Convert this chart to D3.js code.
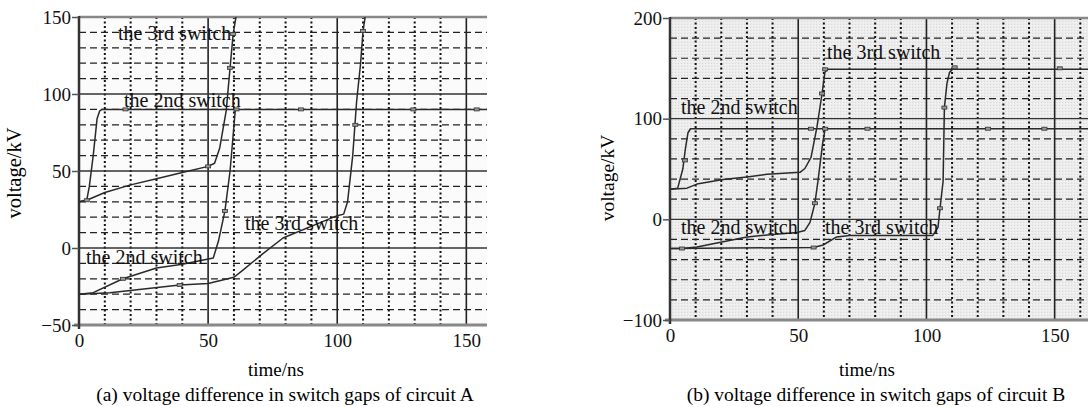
<!DOCTYPE html>
<html>
<head>
<meta charset="utf-8">
<script src="https://cdn.jsdelivr.net/npm/d3@7"></script>
<style>
  body { margin: 0; background: #fff; }
  svg { display: block; font-family: "Liberation Serif", "DejaVu Serif", serif; }
</style>
</head>
<body>
<svg id="chart" width="1089" height="407"></svg>
<script>
// ---- data: [time ns, voltage kV] ----
// circuit A
let a2ndUp = [[0,30],[3,31],[4,40],[5.5,60],[7,84],[8,89],[9,90],[158,90]];
let a3rdUp = [[0,30],[3,31],[10,36],[20,41],[30,45],[40,49],[50,53],[52.5,55],[54.5,65],[57,89],[58.5,117],[59.7,139],[61,152],[62,175]];
let a2ndDown = [[0,-30],[5.5,-29],[17,-20],[30,-13],[40,-10.5],[52,-6.5],[54,4.5],[56.5,24],[58.5,50],[60.5,89],[61,90]];
let a3rdDown = [[0,-30],[12,-29],[39,-24],[50,-23],[60,-19],[63,-15],[71,-4],[79,6.5],[92,15.5],[100,21],[102.5,22],[104,30],[106,60],[107.5,95],[109,119],[110,141],[111,152],[112,175]];
let a2ndUpMarks = [[3,31],[18,90],[86,90],[129.5,90],[154,90]];
let a3rdUpMarks = [[50,53],[58.5,117],[59.7,139]];
let a2ndDownMarks = [[17,-20],[56.5,24],[61,90]];
let a3rdDownMarks = [[39,-24],[107,80],[110,141]];

// circuit B
let b2ndUp = [[0,30],[3,31],[5,50],[6,70],[7,86],[8,90],[163,90]];
let b3rdUp = [[0,30],[6.6,31],[10.5,35],[20.7,39.5],[30,42],[37.8,44.7],[50.7,46.7],[52.6,50.5],[55,61.6],[57.3,91.5],[59.3,125],[60.4,146],[61.5,149],[163,149]];
let b2ndDown = [[0,-29],[4.7,-29],[10.5,-27.5],[30,-17.5],[40,-15],[49.5,-13],[52.6,-11],[54.6,-3],[56.5,16],[57.7,38],[59.5,75],[60.5,90]];
let b3rdDown = [[0,-29],[56,-28],[59.7,-25.5],[65,-17.5],[70,-16],[102.5,-16],[104.5,-8],[105.3,11],[106.5,38],[107,111],[108,135],[109,146],[111,151]];
let b2ndUpMarks = [[5.8,58.5],[55,90],[77,90],[124,90],[146,90]];
let b3rdUpMarks = [[59.3,125],[60.5,149]];
let b2ndDownMarks = [[4.7,-29],[56.5,16],[60.5,90]];
let b3rdDownMarks = [[56,-28],[105.3,11],[107,111],[111,151],[152,150]];

let xTicks = [0, 50, 100, 150];
let aYTicks = [-50, 0, 50, 100, 150];
let bYTicks = [-100, 0, 100, 200];

let svg = d3.select('#chart');

let defs = svg.append('defs');
// stippled grey background used in panel (b)
let pat = defs.append('pattern').attr('id', 'stipple')
  .attr('width', 3).attr('height', 3).attr('patternUnits', 'userSpaceOnUse');
pat.append('rect').attr('width', 3).attr('height', 3).attr('fill', '#ececec');
pat.append('rect').attr('x', 0).attr('y', 0).attr('width', 1).attr('height', 1).attr('fill', '#dadada');
pat.append('rect').attr('x', 2).attr('y', 1).attr('width', 1).attr('height', 1).attr('fill', '#f7f7f7');

const SERIF = '"Liberation Serif", serif';

function drawPanel(cfg) {
  let x = d3.scaleLinear().domain(cfg.xDomain).range(cfg.xRange);
  let y = d3.scaleLinear().domain(cfg.yDomain).range(cfg.yRange);
  let g = svg.append('g');
  let x0 = cfg.xRange[0], x1 = cfg.xRange[1], y0 = cfg.yRange[0], y1 = cfg.yRange[1];

  defs.append('clipPath').attr('id', 'clip' + cfg.id)
    .append('rect').attr('x', x0).attr('y', y1).attr('width', x1 - x0).attr('height', y0 - y1);

  g.append('rect').attr('x', x0).attr('y', y1).attr('width', x1 - x0).attr('height', y0 - y1)
    .attr('fill', cfg.bg);

  // minor grid
  let vMinor = d3.range(10, cfg.xDomain[1], 10).filter(d => d % 50 != 0);
  g.selectAll('.vminor').data(vMinor).enter().append('line')
    .attr('x1', d => x(d)).attr('x2', d => x(d)).attr('y1', y1).attr('y2', y0)
    .attr('stroke', '#111').attr('stroke-width', 2).attr('stroke-dasharray', '2,2.5');
  let hMinor = d3.range(cfg.yDomain[0] + cfg.yStep, cfg.yDomain[1], cfg.yStep).filter(d => d % cfg.yMajor != 0);
  g.selectAll('.hminor').data(hMinor).enter().append('line')
    .attr('x1', x0).attr('x2', x1).attr('y1', d => y(d)).attr('y2', d => y(d))
    .attr('stroke', '#222').attr('stroke-width', 1.2).attr('stroke-dasharray', '7,4');

  // major grid
  g.selectAll('.vmajor').data(xTicks.filter(d => d > 0)).enter().append('line')
    .attr('x1', d => x(d)).attr('x2', d => x(d)).attr('y1', y1).attr('y2', y0)
    .attr('stroke', '#222').attr('stroke-width', 1.6);
  g.selectAll('.hmajor').data(cfg.yTicks.filter(d => d > cfg.yDomain[0] && d < cfg.yDomain[1])).enter().append('line')
    .attr('x1', x0).attr('x2', x1).attr('y1', d => y(d)).attr('y2', d => y(d))
    .attr('stroke', '#333').attr('stroke-width', 1.4);

  // frame: top border, left and bottom axes
  g.append('line').attr('x1', x0).attr('x2', x1).attr('y1', y1).attr('y2', y1)
    .attr('stroke', '#888').attr('stroke-width', 2.5);
  g.append('line').attr('x1', x0 - 5).attr('x2', x1).attr('y1', y0).attr('y2', y0)
    .attr('stroke', '#888').attr('stroke-width', 3);
  g.append('line').attr('x1', x0).attr('x2', x0).attr('y1', y1 - 1).attr('y2', y0 + 4)
    .attr('stroke', '#333').attr('stroke-width', 2.5);

  // axes labels via d3 axes
  let yAxis = d3.axisLeft(y).tickValues(cfg.yTicks).tickSize(7).tickPadding(1)
    .tickFormat(d => d < 0 ? '\u2212' + Math.abs(d) : d);
  let ya = g.append('g').attr('transform', `translate(${x0},0)`).call(yAxis);
  ya.select('.domain').remove();
  ya.selectAll('line').attr('stroke', '#555').attr('stroke-width', 1.5);
  ya.selectAll('text').attr('font-size', 19).attr('fill', '#111').attr('font-family', SERIF);

  let xAxis = d3.axisBottom(x).tickValues(xTicks).tickSize(0).tickPadding(9);
  let xa = g.append('g').attr('transform', `translate(0,${y0})`).call(xAxis);
  xa.select('.domain').remove();
  xa.selectAll('text').attr('font-size', 19).attr('fill', '#111').attr('font-family', SERIF);

  // curves
  let line = d3.line().x(d => x(d[0])).y(d => y(d[1]));
  let cg = g.append('g').attr('clip-path', `url(#clip${cfg.id})`);
  cfg.series.forEach(s => {
    cg.append('path').attr('d', line(s)).attr('fill', 'none')
      .attr('stroke', '#2a2a2a').attr('stroke-width', 1.5).attr('stroke-linejoin', 'round');
  });
  cfg.marks.forEach(m => {
    cg.selectAll(null).data(m).enter().append('rect')
      .attr('x', d => x(d[0]) - 2.5).attr('y', d => y(d[1]) - 1.5)
      .attr('width', 5).attr('height', 3)
      .attr('fill', '#999').attr('stroke', '#333').attr('stroke-width', 0.8);
  });

  // switch labels
  g.selectAll('.lab').data(cfg.labels).enter().append('text')
    .attr('x', d => d.x).attr('y', d => d.y)
    .attr('dominant-baseline', 'central')
    .attr('font-size', 20).attr('fill', '#111')
    .text(d => d.text);

  // axis titles and caption
  g.append('text').attr('x', cfg.xTitle[0]).attr('y', cfg.xTitle[1])
    .attr('text-anchor', 'middle').attr('dominant-baseline', 'central')
    .attr('font-size', 19).text('time/ns');
  g.append('text')
    .attr('transform', `translate(${cfg.yTitle[0]},${cfg.yTitle[1]}) rotate(-90)`)
    .attr('text-anchor', 'middle').attr('dominant-baseline', 'central')
    .attr('font-size', cfg.yTitle[2]).text('voltage/kV');
  g.append('text').attr('x', cfg.caption[0]).attr('y', cfg.caption[1])
    .attr('text-anchor', 'middle').attr('dominant-baseline', 'central')
    .attr('font-size', 19.5).text(cfg.captionText);
}

drawPanel({
  id: 'A', bg: '#fbfbfb',
  xDomain: [0, 158], xRange: [79, 487],
  yDomain: [-50, 150], yRange: [325, 17],
  yTicks: aYTicks, yStep: 10, yMajor: 50,
  series: [a2ndUp, a3rdUp, a2ndDown, a3rdDown],
  marks: [a2ndUpMarks, a3rdUpMarks, a2ndDownMarks, a3rdDownMarks],
  labels: [
    {text: 'the 3rd switch', x: 118, y: 33},
    {text: 'the 2nd switch', x: 124, y: 100},
    {text: 'the 2nd switch', x: 86, y: 257},
    {text: 'the 3rd switch', x: 245, y: 223}
  ],
  xTitle: [276, 369], yTitle: [14, 173, 20.5],
  caption: [285, 394], captionText: '(a) voltage difference in switch gaps of circuit A'
});

drawPanel({
  id: 'B', bg: 'url(#stipple)',
  xDomain: [0, 163], xRange: [670, 1088],
  yDomain: [-100, 200], yRange: [320, 18],
  yTicks: bYTicks, yStep: 20, yMajor: 100,
  series: [b2ndUp, b3rdUp, b2ndDown, b3rdDown],
  marks: [b2ndUpMarks, b3rdUpMarks, b2ndDownMarks, b3rdDownMarks],
  labels: [
    {text: 'the 2nd switch', x: 681, y: 107},
    {text: 'the 3rd switch', x: 827, y: 52},
    {text: 'the 2nd switch', x: 681, y: 227},
    {text: 'the 3rd switch', x: 825, y: 227}
  ],
  xTitle: [867, 369], yTitle: [607, 178, 19.5],
  caption: [876, 394], captionText: '(b) voltage difference in switch gaps of circuit B'
});
</script>
</body>
</html>
